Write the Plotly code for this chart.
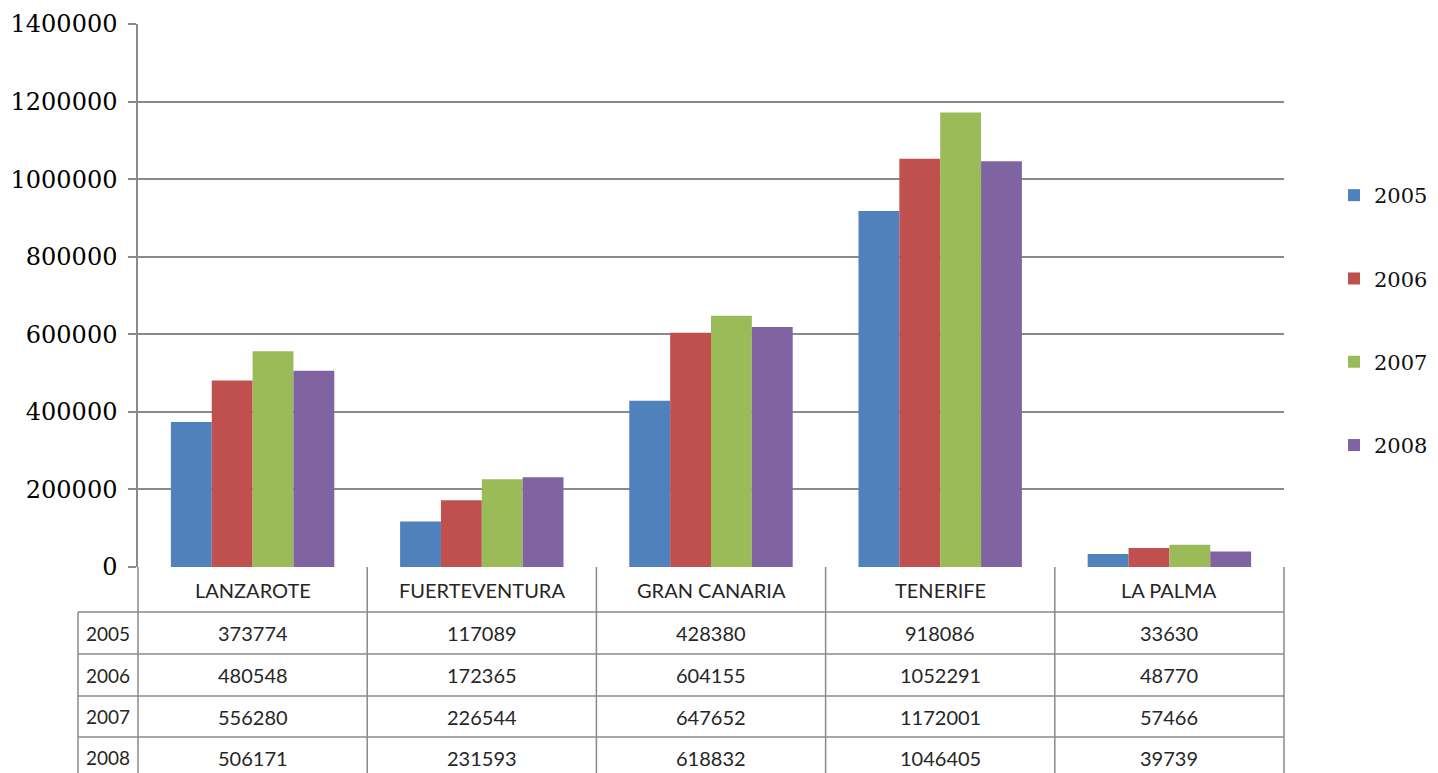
import plotly.graph_objects as go

islands = ["LANZAROTE", "FUERTEVENTURA", "GRAN CANARIA", "TENERIFE", "LA PALMA"]
years = ["2005", "2006", "2007", "2008"]
v2005 = [373774, 117089, 428380, 918086, 33630]
v2006 = [480548, 172365, 604155, 1052291, 48770]
v2007 = [556280, 226544, 647652, 1172001, 57466]
v2008 = [506171, 231593, 618832, 1046405, 39739]
y_ticks = [0, 200000, 400000, 600000, 800000, 1000000, 1200000, 1400000]

series = [v2005, v2006, v2007, v2008]
colors = ["#4F81BD", "#C0504D", "#9BBB59", "#8064A2"]

OFF = 8  # page body margin in the browser
W, H = 1438 - OFF, 773 - OFF
# plot area in reference-window pixels
L, R, T, B = 138, 1284, 24, 567
pw, ph = R - L, B - T

def px_x(p):
    return (p - L) / pw

def px_y(p):
    return (B - p) / ph

fig = go.Figure()
for i, (yr, vals) in enumerate(zip(years, series)):
    fig.add_trace(go.Bar(
        x=islands, y=vals, name=yr, marker=dict(color=colors[i], line=dict(width=0)),
        legendgroup=yr,
    ))

grid_col = "#8A8A8A"
shapes = []
row_edges = [567, 612, 654, 696, 737, 779]
label_left = 78
n = len(islands)
col_edges = [L + k * pw / n for k in range(n + 1)]
bottom = 800
for cx in col_edges:
    shapes.append(dict(type="line", xref="paper", yref="paper", x0=px_x(cx), x1=px_x(cx),
                       y0=px_y(567), y1=px_y(bottom), line=dict(color=grid_col, width=1.5)))
shapes.append(dict(type="line", xref="paper", yref="paper", x0=px_x(label_left), x1=px_x(label_left),
                   y0=px_y(612), y1=px_y(bottom), line=dict(color=grid_col, width=1.5)))
for ry in row_edges[1:]:
    shapes.append(dict(type="line", xref="paper", yref="paper", x0=px_x(label_left), x1=1,
                       y0=px_y(ry), y1=px_y(ry), line=dict(color=grid_col, width=1.5)))

annotations = []
tfont = dict(family="Lato, 'Noto Sans', sans-serif", size=20, color="#262626")
hdr_y = px_y((row_edges[0] + row_edges[1]) / 2)
for i, name in enumerate(islands):
    annotations.append(dict(xref="paper", yref="paper", x=(i + 0.5) / n, y=hdr_y, text=name,
                            showarrow=False, font=tfont, xanchor="center", yanchor="middle"))
for r, (yr, vals) in enumerate(zip(years, series)):
    cy = px_y((row_edges[r + 1] + row_edges[r + 2]) / 2)
    annotations.append(dict(xref="paper", yref="paper", x=px_x((label_left + L) / 2), y=cy, text=yr,
                            showarrow=False, font=dict(tfont, size=19), xanchor="center", yanchor="middle"))
    for i, v in enumerate(vals):
        annotations.append(dict(xref="paper", yref="paper", x=(i + 0.5) / n, y=cy, text=str(v),
                                showarrow=False, font=tfont, xanchor="center", yanchor="middle"))

fig.update_layout(
    width=W, height=H,
    margin=dict(l=L - OFF, r=(W + OFF) - R, t=T - OFF, b=(H + OFF) - B, pad=0, autoexpand=False),
    paper_bgcolor="white", plot_bgcolor="white",
    barmode="group", bargap=0.287, bargroupgap=0,
    showlegend=True,
    legend=dict(x=px_x(1334), y=px_y(175), xanchor="left", yanchor="top",
                font=dict(family="'DejaVu Serif', serif", size=21, color="#111111"),
                traceorder="grouped", tracegroupgap=53, bgcolor="rgba(0,0,0,0)"),
    xaxis=dict(showticklabels=False, showgrid=False, showline=False, ticks="", zeroline=False),
    yaxis=dict(range=[0, 1400000], tickvals=y_ticks, ticktext=[str(t) for t in y_ticks],
               showgrid=True, gridcolor=grid_col, gridwidth=1.5,
               showline=True, linecolor=grid_col, linewidth=1.5,
               ticks="outside", ticklen=8, tickcolor=grid_col, tickwidth=1.5,
               ticklabelstandoff=6,
               zeroline=False,
               tickfont=dict(family="'DejaVu Serif', serif", size=24, color="#000000")),
    shapes=shapes, annotations=annotations,
)
fig.write_html("out.html")
